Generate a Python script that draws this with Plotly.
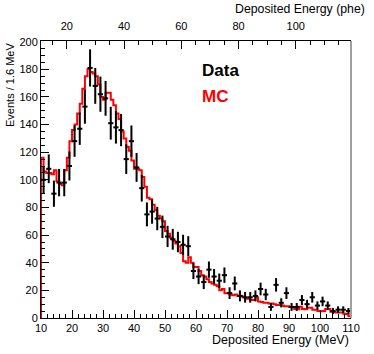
import numpy as np
import plotly.graph_objects as go

# Deposited energy range (MeV) and binning
E_MIN, E_MAX = 10, 110

# data: events per bin (60 bins, 10-110 MeV)
data_counts = [100, 108, 90, 98, 98, 110, 128, 137, 153, 181,
               168, 162, 159, 141, 138, 136, 115, 128, 109, 94,
               75, 77, 72, 66, 59, 57, 55, 53, 52, 34,
               30, 26, 35, 30, 27, 31, 18, 25, 16, 15,
               15, 16, 21, 17, 8, 24, 11, 18, 8, 8,
               13, 10, 15, 9, 12, 9, 5, 6, 6, 5]

# MC prediction, finer binning (120 bins), normalised to data
mc_counts = [116, 106, 105, 105, 104, 107, 99, 97, 96, 107,
             116, 128, 136, 140, 148, 155, 166, 175, 180, 178,
             177, 175, 169, 160, 158, 163, 163, 158, 154, 148,
             144, 135, 130, 124, 121, 114, 108, 108, 107, 102,
             95, 87, 86, 82, 78, 74, 72, 70, 63, 61,
             58, 56, 54, 52, 47, 41, 40, 44, 40, 37,
             37, 34, 31, 30, 28, 26, 25, 24, 23, 20,
             21, 18, 18, 17, 16.5, 17, 16, 16, 15, 14,
             14, 13, 13, 15, 12, 11.5, 11, 11, 10.5, 10.5,
             10, 9.5, 9.5, 9, 8.5, 8.5, 8, 7.7, 6.5, 6.3,
             8.2, 6.5, 6.3, 7.5, 7.5, 6, 6, 5, 4.8, 5,
             6.5, 6.5, 4.5, 4.3, 4, 3.9, 3.9, 3, 2.7, 1.5]

# top axis in photoelectrons
phe_range = [11.0, 119.3]
phe_ticks = [20, 40, 60, 80, 100]

FONT = "Liberation Sans, Arial, Helvetica, sans-serif"

data_edges = np.linspace(E_MIN, E_MAX, len(data_counts) + 1)
data_x = 0.5 * (data_edges[:-1] + data_edges[1:])
data_ex = np.diff(data_edges) / 2
data_ey = np.sqrt(data_counts)

mc_edges = np.linspace(E_MIN, E_MAX, len(mc_counts) + 1)
mc_x = np.concatenate([[E_MIN], mc_edges[:-1], [E_MAX, E_MAX]])
mc_y = np.concatenate([[0], mc_counts, [mc_counts[-1], 0]])

fig = go.Figure()
fig.add_trace(go.Scatter(
    x=mc_x, y=mc_y, mode="lines", line=dict(color="#ff0000", width=2, shape="hv"),
    name="MC", hoverinfo="skip"))
fig.add_trace(go.Scatter(
    x=data_x, y=data_counts, mode="markers", name="Data",
    marker=dict(size=2, color="black"),
    error_x=dict(type="data", array=data_ex, color="black", thickness=2, width=0),
    error_y=dict(type="data", array=data_ey, color="black", thickness=2, width=0)))
# empty trace so the top (phe) axis gets drawn
fig.add_trace(go.Scatter(x=phe_range, y=[None, None], xaxis="x2", mode="lines",
                         hoverinfo="skip", showlegend=False))

tick_style = dict(ticks="inside", tickcolor="black", tickwidth=1, ticklen=8,
                  showline=True, linecolor="black", linewidth=1,
                  showgrid=False, zeroline=False,
                  tickfont=dict(family=FONT, size=11, color="black"))

fig.update_layout(
    width=374, height=354,
    margin=dict(l=41, r=23, t=41, b=36),
    plot_bgcolor="white", paper_bgcolor="white",
    showlegend=False,
    font=dict(family=FONT, size=11, color="black"),
    xaxis=dict(range=[E_MIN, E_MAX], tick0=10, dtick=10, **tick_style,
               minor=dict(dtick=2, ticks="inside", ticklen=4, tickcolor="black", showgrid=False)),
    xaxis2=dict(range=phe_range, overlaying="x", side="top", anchor="y",
                tickmode="array", tickvals=phe_ticks, ticklabelstandoff=6, **tick_style,
                minor=dict(dtick=5, ticks="inside", ticklen=4, tickcolor="black", showgrid=False)),
    yaxis=dict(range=[0, 200.5], tick0=0, dtick=20, **tick_style,
               minor=dict(dtick=5, ticks="inside", ticklen=4, tickcolor="black", showgrid=False)),
)

# right frame edge
fig.add_shape(type="line", xref="paper", yref="paper", x0=1, x1=1, y0=0, y1=1,
              line=dict(color="#a0a0a0", width=2))

fig.add_annotation(text="Deposited Energy (MeV)", xref="paper", yref="paper",
                   x=1, y=-0.08, xanchor="right", yanchor="middle", showarrow=False,
                   font=dict(family=FONT, size=12.5))
fig.add_annotation(text="Deposited Energy (phe)", xref="paper", yref="paper",
                   x=1.052, y=1.115, xanchor="right", yanchor="middle", showarrow=False,
                   font=dict(family=FONT, size=12.3))
fig.add_annotation(text="Events / 1.6 MeV", xref="paper", yref="paper",
                   x=-0.1, y=1, xanchor="center", yanchor="top", textangle=-90,
                   showarrow=False, font=dict(family=FONT, size=11))
fig.add_annotation(text="<b>Data</b>", xref="paper", yref="paper",
                   x=0.513, y=0.895, xanchor="left", yanchor="middle", showarrow=False,
                   font=dict(family=FONT, size=17, color="black"))
fig.add_annotation(text="<b>MC</b>", xref="paper", yref="paper",
                   x=0.513, y=0.80, xanchor="left", yanchor="middle", showarrow=False,
                   font=dict(family=FONT, size=17, color="#ff0000"))

# drop the default 8px page margin so the figure fills the window
fig.write_html("out.html", config={"displayModeBar": False},
               post_script="document.body.style.margin = '0';")
